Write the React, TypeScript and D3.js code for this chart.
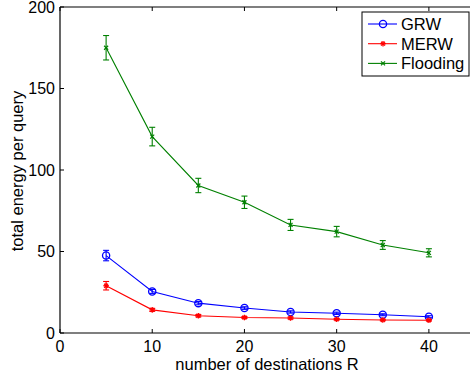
import React, { useEffect } from "react";
import * as d3 from "d3";

const xs = [5, 10, 15, 20, 25, 30, 35, 40];
const grw = [47.5, 25.5, 18.3, 15.3, 12.9, 12.1, 11.2, 10.0];
const grwErr = [3.2, 1.2, 1.0, 0.8, 0.7, 0.7, 0.6, 0.6];
const merw = [29, 14.2, 10.6, 9.5, 9.2, 8.4, 8.0, 7.8];
const merwErr = [2.6, 0.9, 0.7, 0.6, 0.6, 0.5, 0.5, 0.5];
const flood = [175, 120.5, 90.5, 80.2, 66.3, 62.2, 54, 49.2];
const floodErr = [7.5, 5.7, 4.4, 3.8, 3.4, 3.2, 2.7, 2.5];
const xTicks = [0, 10, 20, 30, 40];
const yTicks = [0, 50, 100, 150, 200];
const seriesNames = ["GRW", "MERW", "Flooding"];

const W = 470, H = 379;
const L = 60, T = 7, R = 475, B = 333;

export default function App() {
  useEffect(() => {
    document.body.style.margin = "0";
    document.body.style.overflow = "hidden";
  }, []);
  const x = d3.scaleLinear().domain([0, 45]).range([L, R]);
  const y = d3.scaleLinear().domain([0, 200]).range([B, T]);
  const line = d3.line<number>().x((_, i) => x(xs[i])).y((d) => y(d));
  const series = [
    { name: seriesNames[0], vals: grw, err: grwErr, color: "#0000ff", marker: "o" },
    { name: seriesNames[1], vals: merw, err: merwErr, color: "#ff0000", marker: "*" },
    { name: seriesNames[2], vals: flood, err: floodErr, color: "#008000", marker: "x" },
  ];
  const drawMarker = (m: string, cx: number, cy: number, c: string, key: string) => {
    if (m === "o") return <circle key={key} cx={cx} cy={cy} r={3.6} fill="none" stroke={c} strokeWidth={1.3} />;
    if (m === "x") {
      const s = 2;
      return (
        <g key={key} stroke={c} strokeWidth={1.2}>
          <line x1={cx - s} y1={cy - s} x2={cx + s} y2={cy + s} />
          <line x1={cx - s} y1={cy + s} x2={cx + s} y2={cy - s} />
        </g>
      );
    }
    const s = 2.8;
    return (
      <g key={key} stroke={c} strokeWidth={1.3}>
        <line x1={cx - s} y1={cy} x2={cx + s} y2={cy} />
        <line x1={cx} y1={cy - s} x2={cx} y2={cy + s} />
        <line x1={cx - s * 0.7} y1={cy - s * 0.7} x2={cx + s * 0.7} y2={cy + s * 0.7} />
        <line x1={cx - s * 0.7} y1={cy + s * 0.7} x2={cx + s * 0.7} y2={cy - s * 0.7} />
      </g>
    );
  };
  const font = "'Liberation Sans', Arial, Helvetica, sans-serif";
  return (
    <svg width={W} height={H} style={{ position: "absolute", left: 0, top: 0, display: "block", background: "#fff" }} fontFamily={font}>
      <rect x={0} y={0} width={W} height={H} fill="#fff" />
      {series.map((s) => (
        <g key={s.name}>
          <path d={line(s.vals) || ""} fill="none" stroke={s.color} strokeWidth={1.1} />
          {s.vals.map((v, i) => {
            const cx = x(xs[i]);
            const y1 = y(v + s.err[i]);
            const y2 = y(v - s.err[i]);
            return (
              <g key={i} stroke={s.color} strokeWidth={1.1}>
                <line x1={cx} x2={cx} y1={y1} y2={y2} />
                <line x1={cx - 3} x2={cx + 3} y1={y1} y2={y1} />
                <line x1={cx - 3} x2={cx + 3} y1={y2} y2={y2} />
              </g>
            );
          })}
          {s.vals.map((v, i) => drawMarker(s.marker, x(xs[i]), y(v), s.color, "m" + i))}
        </g>
      ))}
      <g stroke="#000" strokeWidth={1.2}>
        <line x1={L} x2={W} y1={T} y2={T} />
        <line x1={L} x2={W} y1={B} y2={B} />
        <line x1={L} x2={L} y1={T} y2={B} />
      </g>
      {xTicks.map((t) => (
        <g key={"xt" + t}>
          <line x1={x(t)} x2={x(t)} y1={B} y2={B - 4} stroke="#000" />
          <line x1={x(t)} x2={x(t)} y1={T} y2={T + 4} stroke="#000" />
          <text x={x(t)} y={B + 19} textAnchor="middle" fontSize={16} fill="#000">{t}</text>
        </g>
      ))}
      {yTicks.map((t) => (
        <g key={"yt" + t}>
          <line x1={L} x2={L + 4} y1={y(t)} y2={y(t)} stroke="#000" />
          <text x={L - 5} y={y(t) + 5.7} textAnchor="end" fontSize={16} fill="#000">{t}</text>
        </g>
      ))}
      <text x={267} y={369.5} textAnchor="middle" fontSize={16.5} fill="#000">number of destinations R</text>
      <text transform={`translate(23,171) rotate(-90)`} textAnchor="middle" fontSize={16.5} fill="#000">total energy per query</text>
      <rect x={362} y={12} width={107} height={64} fill="#fff" stroke="#000" strokeWidth={1} />
      {series.map((s, i) => {
        const ly = 24 + i * 19.7;
        return (
          <g key={"lg" + s.name}>
            <line x1={368} x2={397} y1={ly} y2={ly} stroke={s.color} strokeWidth={1.1} />
            {drawMarker(s.marker, 383, ly, s.color, "lm")}
            <text x={401} y={ly + 6} fontSize={16.5} fill="#000">{s.name}</text>
          </g>
        );
      })}
    </svg>
  );
}
